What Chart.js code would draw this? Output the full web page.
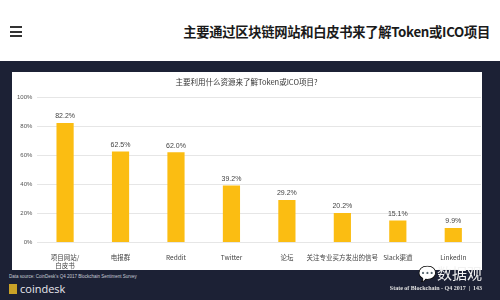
<!DOCTYPE html>
<html>
<head>
<meta charset="utf-8">
<script src="https://cdn.jsdelivr.net/npm/chart.js@4/dist/chart.umd.min.js"></script>
<style>
    html, body { margin: 0; padding: 0; }
    body { width: 500px; height: 300px; position: relative; overflow: hidden; background: #fff; font-family: "Noto Sans CJK SC", "Noto Sans", sans-serif; }
    .menu { position: absolute; left: 10px; top: 26px; width: 12px; }
    .menu span { display: block; height: 2px; background: #333; margin-bottom: 2.5px; }
    .page-title { position: absolute; right: 10px; top: 22px; font-size: 13.3px; font-weight: bold; color: #1a1a1a; letter-spacing: -0.3px; }
    .panel { position: absolute; left: 0; top: 61px; width: 500px; height: 239px; background: #1c2135; }
    .card { position: absolute; left: 12px; top: 72px; width: 470px; height: 198px; background: #fff; }
    .source { position: absolute; left: 9px; top: 274px; font-size: 4.5px; color: #c8ccd6; font-family: "Liberation Sans", sans-serif; }
    .logo { position: absolute; left: 9px; top: 281px; font-size: 11px; color: #e8e8ee; font-family: "Open Sans", sans-serif; }
    .logo b { display: inline-block; width: 8px; height: 10px; background: #c9a227; margin-right: 3px; vertical-align: -1px; }
    .brand { position: absolute; right: 18px; top: 262px; font-size: 15px; color: #f2f2f2; }
    .page-no { position: absolute; right: 18px; top: 285px; font-size: 6px; color: #e0e0e0; font-family: "Liberation Serif", serif; font-weight: bold; }
</style>
</head>
<body>
<div class="menu"><span></span><span></span><span></span></div>
<div class="page-title">主要通过区块链网站和白皮书来了解Token或ICO项目</div>
<div class="panel"></div>
<div class="card"><canvas id="resourceChart" width="470" height="198"></canvas></div>
<div class="source">Data source: CoinDesk's Q4 2017 Blockchain Sentiment Survey</div>
<div class="logo"><b></b>coindesk</div>
<div class="brand">💬数据观</div>
<div class="page-no">State of Blockchain - Q4 2017 &nbsp;| &nbsp;143</div>
<script>
const categories = [['项目网站/', '白皮书'], '电报群', 'Reddit', 'Twitter', '论坛', '关注专业买方发出的信号', 'Slack渠道', 'LinkedIn'];
const shares = [82.2, 62.5, 62.0, 39.2, 29.2, 20.2, 15.1, 9.9];
const yTicks = [0, 20, 40, 60, 80, 100];

const barValueLabels = {
    id: 'barValueLabels',
    afterDatasetsDraw(chart) {
        const { ctx } = chart;
        const meta = chart.getDatasetMeta(0);
        ctx.save();
        ctx.font = '7px "Liberation Sans", sans-serif';
        ctx.fillStyle = '#444';
        ctx.textAlign = 'center';
        ctx.textBaseline = 'bottom';
        meta.data.forEach((bar, i) => {
            ctx.fillText(shares[i].toFixed(1) + '%', bar.x, bar.y - 3);
        });
        ctx.restore();
    }
};

new Chart(document.getElementById('resourceChart'), {
    type: 'bar',
    data: {
        labels: categories,
        datasets: [{
            data: shares,
            backgroundColor: '#fbbd12',
            barPercentage: 0.31,
            categoryPercentage: 1
        }]
    },
    options: {
        responsive: false,
        animation: false,
        layout: { padding: { left: 0, right: 1, top: 0, bottom: -2 } },
        scales: {
            y: {
                min: 0,
                max: 100,
                afterBuildTicks: (axis) => { axis.ticks = yTicks.map((v) => ({ value: v })); },
                border: { display: false },
                grid: { color: '#e6e6e6', drawTicks: false },
                ticks: {
                    padding: 5,
                    color: '#555',
                    font: { size: 6, family: 'Liberation Sans' },
                    callback: (v) => v + '%'
                }
            },
            x: {
                border: { display: false },
                grid: { display: false },
                ticks: {
                    maxRotation: 0,
                    autoSkip: false,
                    padding: 3,
                    color: '#444',
                    font: { size: 6.5, family: 'Noto Sans CJK SC' }
                }
            }
        },
        plugins: {
            legend: { display: false },
            tooltip: { enabled: false },
            title: {
                display: true,
                text: '主要利用什么资源来了解Token或ICO项目?',
                color: '#333',
                font: { size: 7.5, family: 'Noto Sans CJK SC', weight: 'normal' },
                padding: { top: 6, bottom: 10 }
            }
        }
    },
    plugins: [barValueLabels]
});
</script>
</body>
</html>
